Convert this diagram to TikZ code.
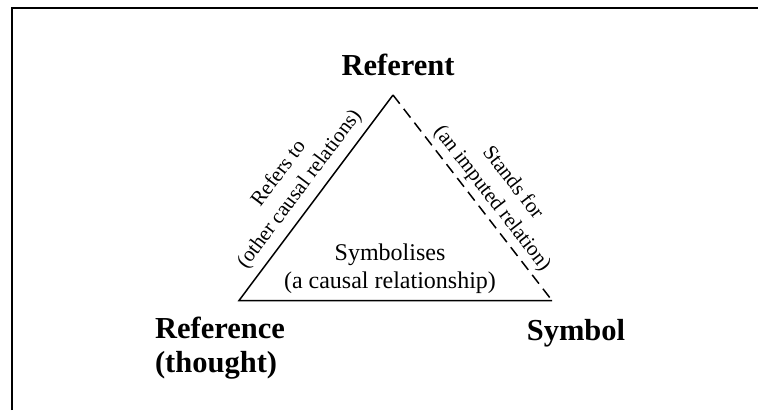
\documentclass[tikz,border=0pt]{standalone}
\usepackage{fontspec}
\setmainfont{Liberation Serif}
\begin{document}
\begin{tikzpicture}[x=1pt,y=-1pt,
  frameline/.style={line width=2pt},
  sideline/.style={line width=1.5pt, line join=miter},
  imputedline/.style={line width=1.5pt, dash pattern=on 11pt off 6.5pt},
  cornerlabel/.style={font=\fontsize{30.5}{34}\selectfont\bfseries, inner sep=0pt},
  sidelabel/.style={font=\fontsize{21}{26}\selectfont, align=center, inner sep=0pt},
  innerlabel/.style={font=\fontsize{24}{28}\selectfont, align=center, inner sep=0pt}]
\useasboundingbox (0,0) rectangle (758,410);

% open frame: top and left edges
\coordinate (fbl) at (12.3,410);
\coordinate (ftl) at (12.3,8.3);
\coordinate (ftr) at (758,8.3);
\draw[frameline] (fbl) -- (ftl) -- (ftr);

% corners of the semiotic triangle
\coordinate (thought) at (239,300.5);
\coordinate (thing) at (393,95);
\coordinate (sign) at (552,300.5);

\draw[sideline] (sign) -- (thought) -- (thing);
\draw[imputedline] (thing) -- (sign);

% corner names
\node[cornerlabel, anchor=base] (referent) at (398,75) {Referent};
\node[cornerlabel, anchor=base] (symbol) at (576,340) {Symbol};
\node[cornerlabel, align=left, anchor=center] (reference) at (220,348) {Reference\\(thought)};

% side descriptions
\node[sidelabel, rotate=53.1] (refersto) at (289.5,181.5) {Refers to\\(other causal relations)};
\node[sidelabel, rotate=-52.2] (standsfor) at (502.2,190.9) {Stands for\\(an imputed relation)};
\node[innerlabel] (symbolises) at (390,268.4) {Symbolises\\(a causal relationship)};
\end{tikzpicture}
\end{document}
